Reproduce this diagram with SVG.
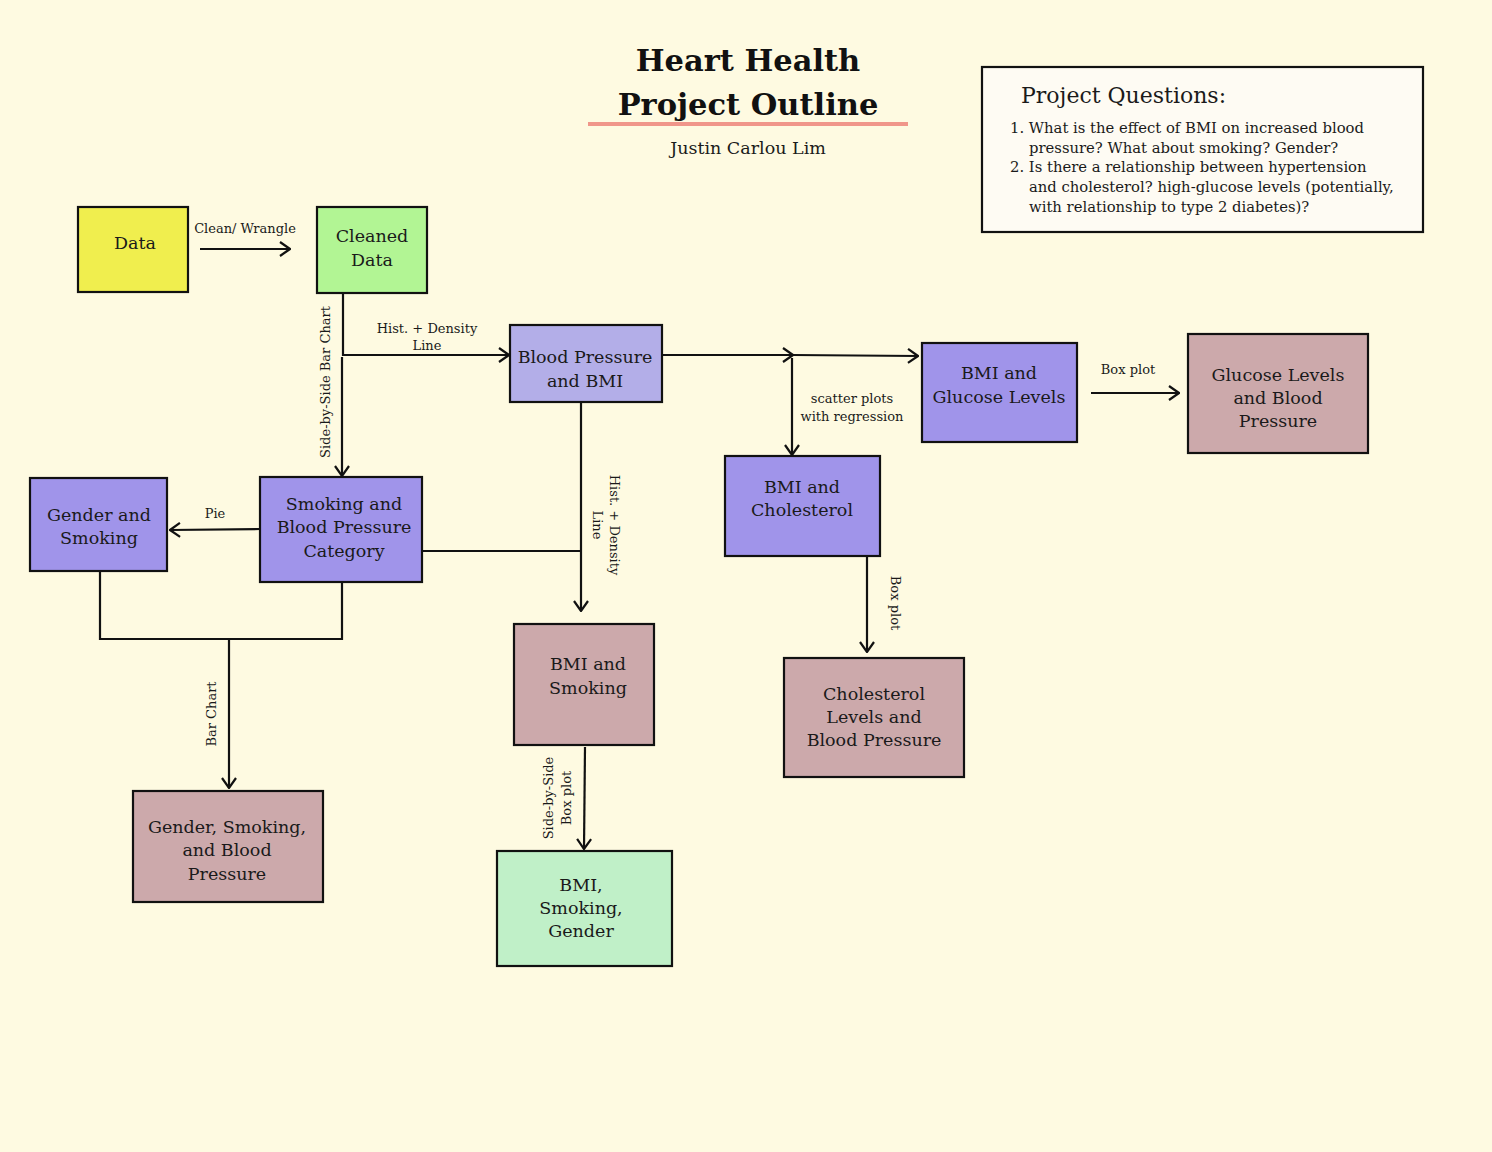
<svg xmlns="http://www.w3.org/2000/svg" width="1492" height="1152" viewBox="0 0 1492 1152">
<defs>
<marker id="arr" viewBox="0 0 12 16" refX="11" refY="8" markerWidth="12" markerHeight="16" orient="auto" markerUnits="userSpaceOnUse">
<path d="M1,1 L11,8 L1,15" fill="none" stroke="#111" stroke-width="2.2"/>
</marker>
</defs>
<style>
.n{stroke:#111;stroke-width:2.2}
.t{font-family:"DejaVu Serif","Liberation Serif",serif;font-size:17.5px;fill:#1a1a1a;text-anchor:middle}
.l{font-family:"DejaVu Serif","Liberation Serif",serif;font-size:13px;fill:#1a1a1a;text-anchor:middle}
.c{fill:none;stroke:#111;stroke-width:2.2}
.y{fill:#F0EE4E}.g{fill:#B2F594}.lv{fill:#B3AEE8}.p{fill:#A094EA}.m{fill:#CCA9AB}.lg{fill:#C0F0C8}
.q{font-family:"DejaVu Serif","Liberation Serif",serif;font-size:14.8px;fill:#1a1a1a}
.h{font-family:"DejaVu Serif","Liberation Serif",serif;font-size:30.5px;font-weight:bold;fill:#111;text-anchor:middle}
</style>
<rect width="1492" height="1152" fill="#FEFAE1"/>

<g id="title">
<text x="748" y="71" class="h">Heart Health</text>
<text x="748" y="115" class="h">Project Outline</text>
<line x1="588" y1="124" x2="908" y2="124" stroke="#F0968A" stroke-width="4"/>
<text x="748" y="154" class="t">Justin Carlou Lim</text>
</g>

<g id="questions">
<rect x="982" y="67" width="441" height="165" fill="#FEFBF3" class="n"/>
<text x="1021" y="103" style="font-family:'DejaVu Serif','Liberation Serif',serif;font-size:22px;fill:#1a1a1a">Project Questions:</text>
<text x="1010" y="133" class="q">1. What is the effect of BMI on increased blood</text>
<text x="1029" y="153" class="q">pressure? What about smoking? Gender?</text>
<text x="1010" y="172" class="q">2. Is there a relationship between hypertension</text>
<text x="1029" y="192" class="q">and cholesterol? high-glucose levels (potentially,</text>
<text x="1029" y="212" class="q">with relationship to type 2 diabetes)?</text>
</g>

<g id="connectors">
<line x1="200" y1="249" x2="290" y2="249" class="c" marker-end="url(#arr)"/>
<polyline points="343,293 343,355 509,355" class="c" marker-end="url(#arr)"/>
<line x1="342" y1="357" x2="342" y2="476" class="c" marker-end="url(#arr)"/>
<line x1="662" y1="355" x2="793" y2="355" class="c" marker-end="url(#arr)"/>
<line x1="793" y1="355" x2="918" y2="356" class="c" marker-end="url(#arr)"/>
<line x1="792" y1="358" x2="792" y2="455" class="c" marker-end="url(#arr)"/>
<line x1="1091" y1="393" x2="1179" y2="393" class="c" marker-end="url(#arr)"/>
<line x1="867" y1="556" x2="867" y2="652" class="c" marker-end="url(#arr)"/>
<line x1="581" y1="402" x2="581" y2="611" class="c" marker-end="url(#arr)"/>
<line x1="422" y1="551" x2="580" y2="551" class="c"/>
<line x1="260" y1="529" x2="170" y2="530" class="c" marker-end="url(#arr)"/>
<polyline points="100,571 100,639 342,639 342,582" class="c"/>
<line x1="229" y1="639" x2="229" y2="788" class="c" marker-end="url(#arr)"/>
<line x1="585" y1="747" x2="584" y2="849" class="c" marker-end="url(#arr)"/>

<text x="245" y="233" class="l">Clean/ Wrangle</text>
<text x="427" y="333" class="l">Hist. + Density</text>
<text x="427" y="350" class="l">Line</text>
<text transform="translate(330,382) rotate(-90)" class="l">Side-by-Side Bar Chart</text>
<text x="852" y="403" class="l">scatter plots</text>
<text x="852" y="421" class="l">with regression</text>
<text x="1128" y="374" class="l">Box plot</text>
<text transform="translate(891,603) rotate(90)" class="l">Box plot</text>
<text transform="translate(610,525) rotate(90)" class="l">Hist. + Density</text>
<text transform="translate(593,525) rotate(90)" class="l">Line</text>
<text x="215" y="518" class="l">Pie</text>
<text transform="translate(216,714) rotate(-90)" class="l">Bar Chart</text>
<text transform="translate(553,798) rotate(-90)" class="l">Side-by-Side</text>
<text transform="translate(571,798) rotate(-90)" class="l">Box plot</text>
</g>

<g id="data">
<rect x="78" y="207" width="110" height="85" class="n y"/>
<text x="135" y="249" class="t">Data</text>
</g>
<g id="cleaned">
<rect x="317" y="207" width="110" height="86" class="n g"/>
<text x="372" y="242" class="t">Cleaned</text>
<text x="372" y="266" class="t">Data</text>
</g>
<g id="bp-bmi">
<rect x="510" y="325" width="152" height="77" class="n lv"/>
<text x="585" y="363" class="t">Blood Pressure</text>
<text x="585" y="387" class="t">and BMI</text>
</g>
<g id="bmi-glucose">
<rect x="922" y="343" width="155" height="99" class="n p"/>
<text x="999" y="379" class="t">BMI and</text>
<text x="999" y="403" class="t">Glucose Levels</text>
</g>
<g id="glucose-bp">
<rect x="1188" y="334" width="180" height="119" class="n m"/>
<text x="1278" y="381" class="t">Glucose Levels</text>
<text x="1278" y="404" class="t">and Blood</text>
<text x="1278" y="427" class="t">Pressure</text>
</g>
<g id="bmi-chol">
<rect x="725" y="456" width="155" height="100" class="n p"/>
<text x="802" y="493" class="t">BMI and</text>
<text x="802" y="516" class="t">Cholesterol</text>
</g>
<g id="chol-bp">
<rect x="784" y="658" width="180" height="119" class="n m"/>
<text x="874" y="700" class="t">Cholesterol</text>
<text x="874" y="723" class="t">Levels and</text>
<text x="874" y="746" class="t">Blood Pressure</text>
</g>
<g id="smoking-bp">
<rect x="260" y="477" width="162" height="105" class="n p"/>
<text x="344" y="510" class="t">Smoking and</text>
<text x="344" y="533" class="t">Blood Pressure</text>
<text x="344" y="557" class="t">Category</text>
</g>
<g id="gender-smoking">
<rect x="30" y="478" width="137" height="93" class="n p"/>
<text x="99" y="521" class="t">Gender and</text>
<text x="99" y="544" class="t">Smoking</text>
</g>
<g id="gender-smoking-bp">
<rect x="133" y="791" width="190" height="111" class="n m"/>
<text x="227" y="833" class="t">Gender, Smoking,</text>
<text x="227" y="856" class="t">and Blood</text>
<text x="227" y="880" class="t">Pressure</text>
</g>
<g id="bmi-smoking">
<rect x="514" y="624" width="140" height="121" class="n m"/>
<text x="588" y="670" class="t">BMI and</text>
<text x="588" y="694" class="t">Smoking</text>
</g>
<g id="bmi-smoking-gender">
<rect x="497" y="851" width="175" height="115" class="n lg"/>
<text x="581" y="891" class="t">BMI,</text>
<text x="581" y="914" class="t">Smoking,</text>
<text x="581" y="937" class="t">Gender</text>
</g>
</svg>
